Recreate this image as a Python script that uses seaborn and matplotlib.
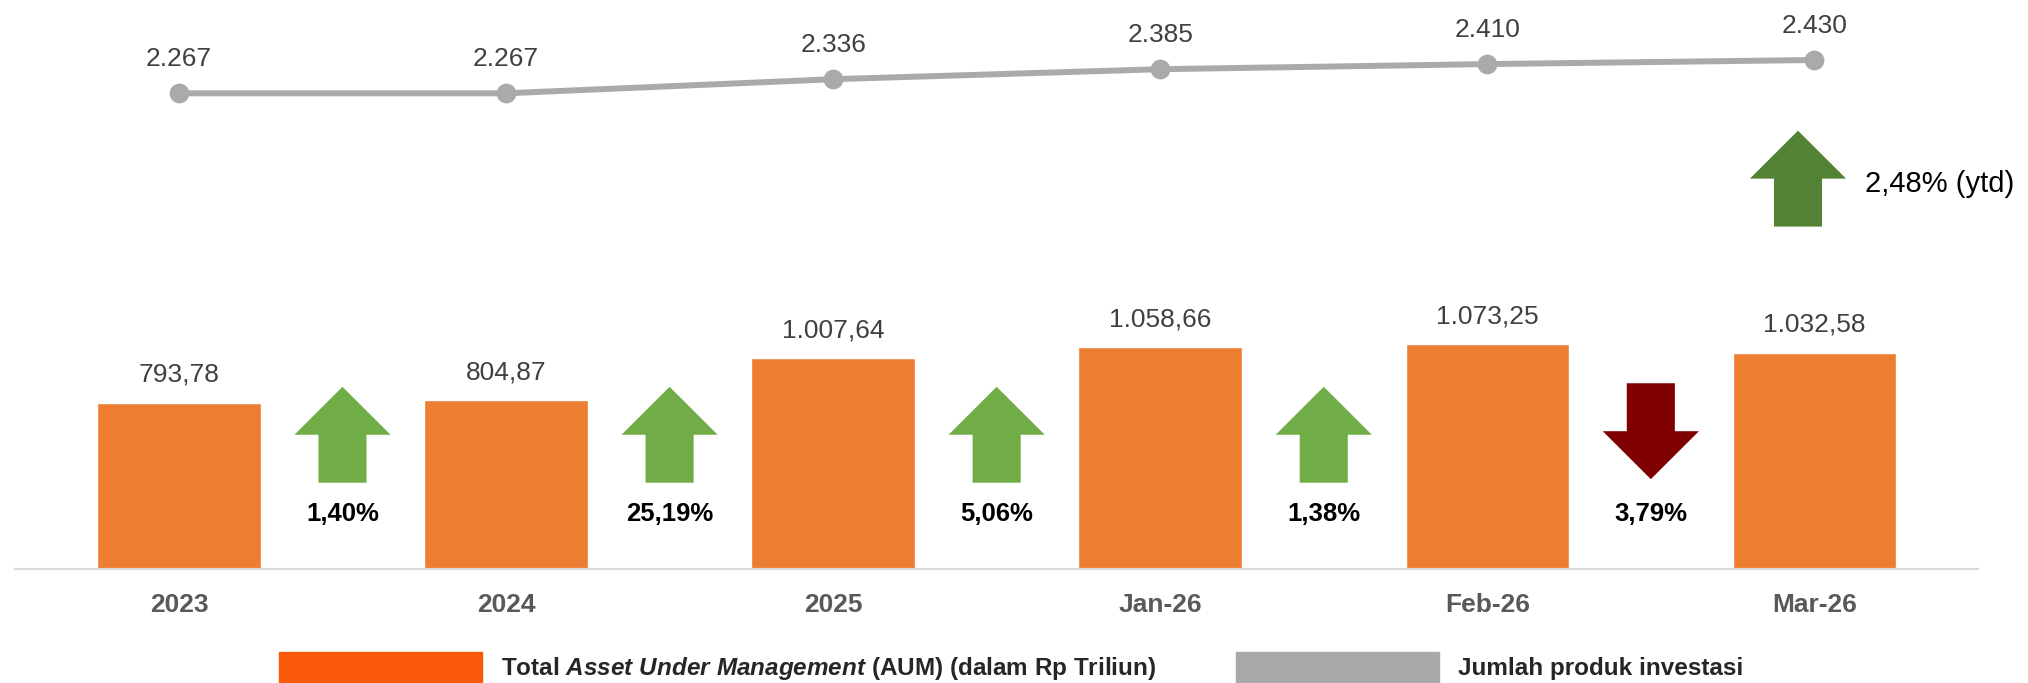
import matplotlib
matplotlib.use("Agg")
import matplotlib.pyplot as plt
import matplotlib.patches as mpatches
import numpy as np
import pandas as pd
import seaborn as sns

# data
periode = ['2023', '2024', '2025', 'Jan-26', 'Feb-26', 'Mar-26']
aum = [793.78, 804.87, 1007.64, 1058.66, 1073.25, 1032.58]
jumlah_produk = [2267, 2267, 2336, 2385, 2410, 2430]
pertumbuhan = [1.40, 25.19, 5.06, 1.38, -3.79]
pertumbuhan_ytd = 2.48

label_aum = r"Total $\mathit{Asset\ Under\ Management}$ (AUM) (dalam Rp Triliun)"
label_produk = "Jumlah produk investasi"


def fmt_id(v, dec=2):
    s = f"{v:,.{dec}f}"
    return s.replace(",", "#").replace(".", ",").replace("#", ".")


sns.set_theme(style="white")
plt.rcParams['font.family'] = ['Liberation Sans', 'DejaVu Sans']
plt.rcParams['mathtext.fontset'] = 'custom'
plt.rcParams['mathtext.rm'] = 'Liberation Sans:bold'
plt.rcParams['mathtext.it'] = 'Liberation Sans:italic:bold'
plt.rcParams['mathtext.bf'] = 'Liberation Sans:bold'

df = pd.DataFrame({'periode': periode, 'aum': aum, 'produk': jumlah_produk})

fig = plt.figure(figsize=(20.28, 6.83), dpi=100)
ax = fig.add_axes([0.0076, 0.1669, 0.9677, 0.8331])
ax2 = ax.twinx()

sns.barplot(data=df, x='periode', y='aum', color='#ED7D31', saturation=1,
            width=0.5, ax=ax, zorder=2)
sns.pointplot(data=df, x='periode', y='produk', color='#ACA9A9', errorbar=None,
              markers='o', markersize=11, linewidth=4.3, ax=ax2)

ax.set_xlim(-0.5, 5.5)
ax.set_ylim(0, 2717)
ax2.set_ylim(-61.4, 2723.7)
ax2.set_xlim(-0.5, 5.5)

# value labels
for i, v in enumerate(aum):
    ax.annotate(fmt_id(v), (i, v), xytext=(0, 20), textcoords='offset points',
                ha='center', va='center', fontsize=19, color='#404040')
for i, v in enumerate(jumlah_produk):
    ax2.annotate(fmt_id(v, 0), (i, v), xytext=(0, 24.5), textcoords='offset points',
                 ha='center', va='center', fontsize=19, color='#404040')

# growth arrows between the bars
for i, g in enumerate(pertumbuhan):
    xc = i + 0.5
    if g >= 0:
        arr = mpatches.FancyArrow(xc, 412, 0, 458, width=0.147, head_width=0.294,
                                  head_length=229, length_includes_head=True,
                                  color='#70AD47', lw=0, zorder=3)
    else:
        arr = mpatches.FancyArrow(xc, 887, 0, -458, width=0.147, head_width=0.294,
                                  head_length=229, length_includes_head=True,
                                  color='#7F0000', lw=0, zorder=3)
    ax.add_patch(arr)
    ax.text(xc, 263, fmt_id(abs(g)) + "%", ha='center', va='center',
            fontsize=18.5, fontweight='bold', color='black')

# ytd arrow for jumlah produk
ax.add_patch(mpatches.FancyArrow(4.95, 1635, 0, 458, width=0.147, head_width=0.294,
                                 head_length=229, length_includes_head=True,
                                 color='#548235', lw=0, zorder=3))
ax.text(5.156, 1839, fmt_id(pertumbuhan_ytd) + "% (ytd)", ha='left', va='center',
        fontsize=21, color='black')

# axes styling
for s in ['left', 'right', 'top']:
    ax.spines[s].set_visible(False)
    ax2.spines[s].set_visible(False)
ax2.spines['bottom'].set_visible(False)
ax.spines['bottom'].set_color('#D9D9D9')
ax.spines['bottom'].set_linewidth(1.6)
ax.set_yticks([])
ax2.set_yticks([])
ax.set_xlabel('')
ax.set_ylabel('')
ax2.set_ylabel('')
ax.tick_params(axis='x', length=0, pad=17.5, labelsize=19, labelcolor='#595959')
for t in ax.get_xticklabels():
    t.set_fontweight('bold')

# legend
handles = [mpatches.Patch(color='#FA5A0A', label=label_aum),
           mpatches.Patch(color='#A9A9A9', label=label_produk)]
fig.legend(handles=handles, loc='center left', bbox_to_anchor=(0.1376, 0.0234),
           ncol=2, frameon=False, prop={'size': 17.5, 'weight': 'bold'},
           handlelength=8.35, handleheight=1.52,
           handletextpad=0.8, columnspacing=3.25, borderpad=0, borderaxespad=0)

fig.savefig('out.png', dpi=100)
